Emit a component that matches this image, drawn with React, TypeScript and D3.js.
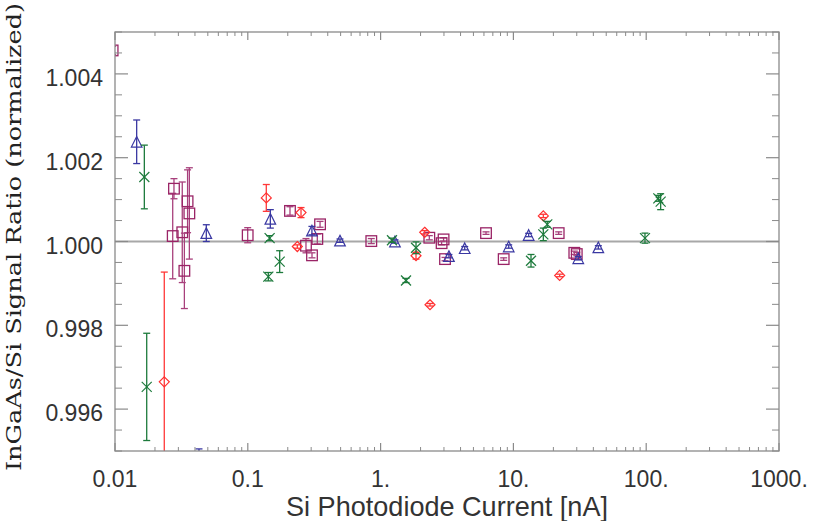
import React from "react";
import * as d3 from "d3";

// Blue triangles
const triX = [0.01456, 0.0429, 0.0487, 0.1478, 0.304, 0.4946, 1.283, 3.27, 4.3, 9.22, 13.03, 30.8, 43.6];
const triY = [1.00238, 0.9948, 1.0002, 1.00054, 1.00026, 1.00002, 1.0, 0.99965, 0.99984, 0.99988, 1.000155, 0.9996, 0.99986];
const triErr = [0.00052, 0.00025, 0.0002, 0.00022, 0.0001, 0.00004, 0.00004, 0.00004, 0.00004, 0.00004, 0.00004, 0.00004, 0.00004];

// Green crosses
const crsX = [0.01663, 0.01733, 0.146, 0.1427, 0.1738, 1.218, 1.553, 1.848, 13.57, 16.8, 17.99, 97.9, 123.4, 128.5];
const crsY = [1.00154, 0.99653, 1.00008, 0.99916, 0.99952, 1.00003, 0.99907, 0.99985, 0.99954, 1.00017, 1.00041, 1.00008, 1.00103, 1.00095];
const crsErr = [0.00076, 0.00128, 0.00006, 0.0001, 0.00026, 0.00005, 0.00005, 0.00014, 0.00015, 0.00015, 0.00007, 0.00012, 0.00007, 0.00019];

// Red diamonds
const diaX = [0.0235, 0.1378, 0.2516, 0.236, 1.848, 2.148, 2.355, 16.8, 22.3];
const diaY = [0.99665, 1.00104, 1.00069, 0.99988, 0.99966, 1.00022, 0.99849, 1.00061, 0.99919];
const diaErr = [0.00262, 0.00032, 0.00012, 0.00004, 0.00008, 0.00004, 0.00003, 0.00004, 0.00003];

// Purple squares
const sqX = [0.0096, 0.0278, 0.0272, 0.0321, 0.0333, 0.0352, 0.0363, 0.0998, 0.2078, 0.2742, 0.3044, 0.3338, 0.35, 0.851, 2.327, 2.88, 2.98, 3.055, 6.22, 8.45, 21.93, 28.75, 30.0];
const sqY = [1.00456, 1.00126, 1.00013, 1.00022, 0.9993, 1.00096, 1.00067, 1.00015, 1.00073, 0.9999, 0.99967, 1.00006, 1.00041, 1.00001, 1.00009, 0.99996, 1.00005, 0.99958, 1.0002, 0.99958, 1.0002, 0.99973, 0.9997];
const sqErr = [0.0001, 0.00024, 0.00102, 0.0012, 0.0009, 0.00075, 0.00109, 0.00018, 0.0001, 0.00017, 0.00006, 0.00012, 0.00007, 0.00006, 0.00005, 0.00004, 0.00004, 0.00004, 0.00003, 0.00003, 0.00003, 0.00004, 0.00004];

const xTickValues = [0.01, 0.1, 1, 10, 100, 1000];
const xTickLabels = ["0.01", "0.1", "1.", "10.", "100.", "1000."];
const yTickValues = [0.996, 0.998, 1.0, 1.002, 1.004];
const yTickLabels = ["0.996", "0.998", "1.000", "1.002", "1.004"];

const W = 814, H = 521;
const L = 115, R = 779, T = 32, B = 451;

type Shape = "tri" | "x" | "dia" | "sq";

function Marker({ shape, cx, cy, color }: { shape: Shape; cx: number; cy: number; color: string }) {
  const s = 5.3;
  if (shape === "tri") {
    return <polygon points={`${cx},${cy - s} ${cx + s},${cy + s} ${cx - s},${cy + s}`} fill="none" stroke={color} strokeWidth={1.2} />;
  }
  if (shape === "sq") {
    return <rect x={cx - s} y={cy - s} width={2 * s} height={2 * s} fill="none" stroke={color} strokeWidth={1.3} />;
  }
  if (shape === "dia") {
    const d = 5;
    return <polygon points={`${cx},${cy - d} ${cx + d},${cy} ${cx},${cy + d} ${cx - d},${cy}`} fill="none" stroke={color} strokeWidth={1.2} />;
  }
  const d = 5;
  return (
    <g stroke={color} strokeWidth={1.2}>
      <line x1={cx - d} y1={cy - d} x2={cx + d} y2={cy + d} />
      <line x1={cx - d} y1={cy + d} x2={cx + d} y2={cy - d} />
    </g>
  );
}

export default function App() {
  const x = d3.scaleLog().domain([0.01, 1000]).range([L, R]);
  const y = d3.scaleLinear().domain([0.995, 1.005]).range([B, T]);

  const series: { xs: number[]; ys: number[]; es: number[]; shape: Shape; color: string; ecolor: string }[] = [
    { xs: sqX, ys: sqY, es: sqErr, shape: "sq", color: "#9a2466", ecolor: "#a8407c" },
    { xs: diaX, ys: diaY, es: diaErr, shape: "dia", color: "#ff3030", ecolor: "#ff3838" },
    { xs: triX, ys: triY, es: triErr, shape: "tri", color: "#3a38a2", ecolor: "#3a38a2" },
    { xs: crsX, ys: crsY, es: crsErr, shape: "x", color: "#1d7a3c", ecolor: "#1d7a3c" },
  ];

  const xMinor: number[] = [];
  for (let e = -2; e < 3; e++) {
    for (let k = 2; k <= 9; k++) xMinor.push(k * Math.pow(10, e));
  }
  const yMinor: number[] = [];
  for (let i = 0; i <= 20; i++) {
    const v = 0.995 + i * 0.0005;
    if (Math.abs(Math.round(v * 500) - v * 500) > 1e-6) yMinor.push(v);
  }

  const axisColor = "#8a8a8a";
  const labelFont = "Liberation Sans, Arial, sans-serif";

  return (
    <svg width={W} height={H} style={{ position: "absolute", left: 0, top: 0, background: "#fff" }}>
      <defs>
        <clipPath id="plotclip">
          <rect x={L} y={T} width={R - L} height={B - T} />
        </clipPath>
      </defs>
      <rect x={0} y={0} width={W} height={H} fill="#fff" />

      {/* zero reference line */}
      <line x1={L} x2={R} y1={y(1.0)} y2={y(1.0)} stroke="#a8a8a8" strokeWidth={2} />

      {/* data */}
      <g clipPath="url(#plotclip)">
        {series.map((s, si) => (
          <g key={si}>
            {s.xs.map((xv, i) => {
              const cx = x(xv);
              const y1 = y(s.ys[i] + s.es[i]);
              const y2 = y(s.ys[i] - s.es[i]);
              return (
                <g key={i} stroke={s.ecolor} strokeWidth={1.3}>
                  <line x1={cx} x2={cx} y1={y1} y2={y2} />
                  <line x1={cx - 3.5} x2={cx + 3.5} y1={y1} y2={y1} />
                  <line x1={cx - 3.5} x2={cx + 3.5} y1={y2} y2={y2} />
                </g>
              );
            })}
            {s.xs.map((xv, i) => (
              <Marker key={"m" + i} shape={s.shape} cx={x(xv)} cy={y(s.ys[i])} color={s.color} />
            ))}
          </g>
        ))}
      </g>

      {/* frame */}
      <rect x={L} y={T} width={R - L} height={B - T} fill="none" stroke={axisColor} strokeWidth={1.3} />

      {/* x ticks */}
      {xTickValues.map((v) => (
        <g key={"xt" + v} stroke={axisColor} strokeWidth={1.2}>
          <line x1={x(v)} x2={x(v)} y1={B} y2={B - 8} />
          <line x1={x(v)} x2={x(v)} y1={T} y2={T + 8} />
        </g>
      ))}
      {xMinor.map((v) => (
        <g key={"xm" + v} stroke={axisColor} strokeWidth={1}>
          <line x1={x(v)} x2={x(v)} y1={B} y2={B - 4} />
          <line x1={x(v)} x2={x(v)} y1={T} y2={T + 4} />
        </g>
      ))}
      {/* y ticks */}
      {yTickValues.map((v) => (
        <g key={"yt" + v} stroke={axisColor} strokeWidth={1.2}>
          <line x1={L} x2={L + 13} y1={y(v)} y2={y(v)} />
          <line x1={R} x2={R - 13} y1={y(v)} y2={y(v)} />
        </g>
      ))}
      {yMinor.map((v) => (
        <g key={"ym" + v} stroke={axisColor} strokeWidth={1}>
          <line x1={L} x2={L + 7} y1={y(v)} y2={y(v)} />
          <line x1={R} x2={R - 7} y1={y(v)} y2={y(v)} />
        </g>
      ))}

      {/* tick labels */}
      {xTickValues.map((v, i) => (
        <text key={"xl" + v} x={x(v)} y={487} textAnchor="middle" fontFamily={labelFont} fontSize={23} fill="#333">
          {xTickLabels[i]}
        </text>
      ))}
      {yTickValues.map((v, i) => (
        <text key={"yl" + v} x={103} y={y(v) + 12} textAnchor="end" fontFamily={labelFont} fontSize={23} fill="#333">
          {yTickLabels[i]}
        </text>
      ))}

      {/* axis titles */}
      <text x={447} y={516} textAnchor="middle" fontFamily={labelFont} fontSize={28} fill="#333" textLength={322} lengthAdjust="spacingAndGlyphs">
        Si Photodiode Current [nA]
      </text>
      <text transform="translate(21,237) rotate(-90)" textAnchor="middle" fontFamily="DejaVu Serif" fontSize={21} fill="#222" textLength={468} lengthAdjust="spacingAndGlyphs">
        InGaAs/Si Signal Ratio (normalized)
      </text>
    </svg>
  );
}
